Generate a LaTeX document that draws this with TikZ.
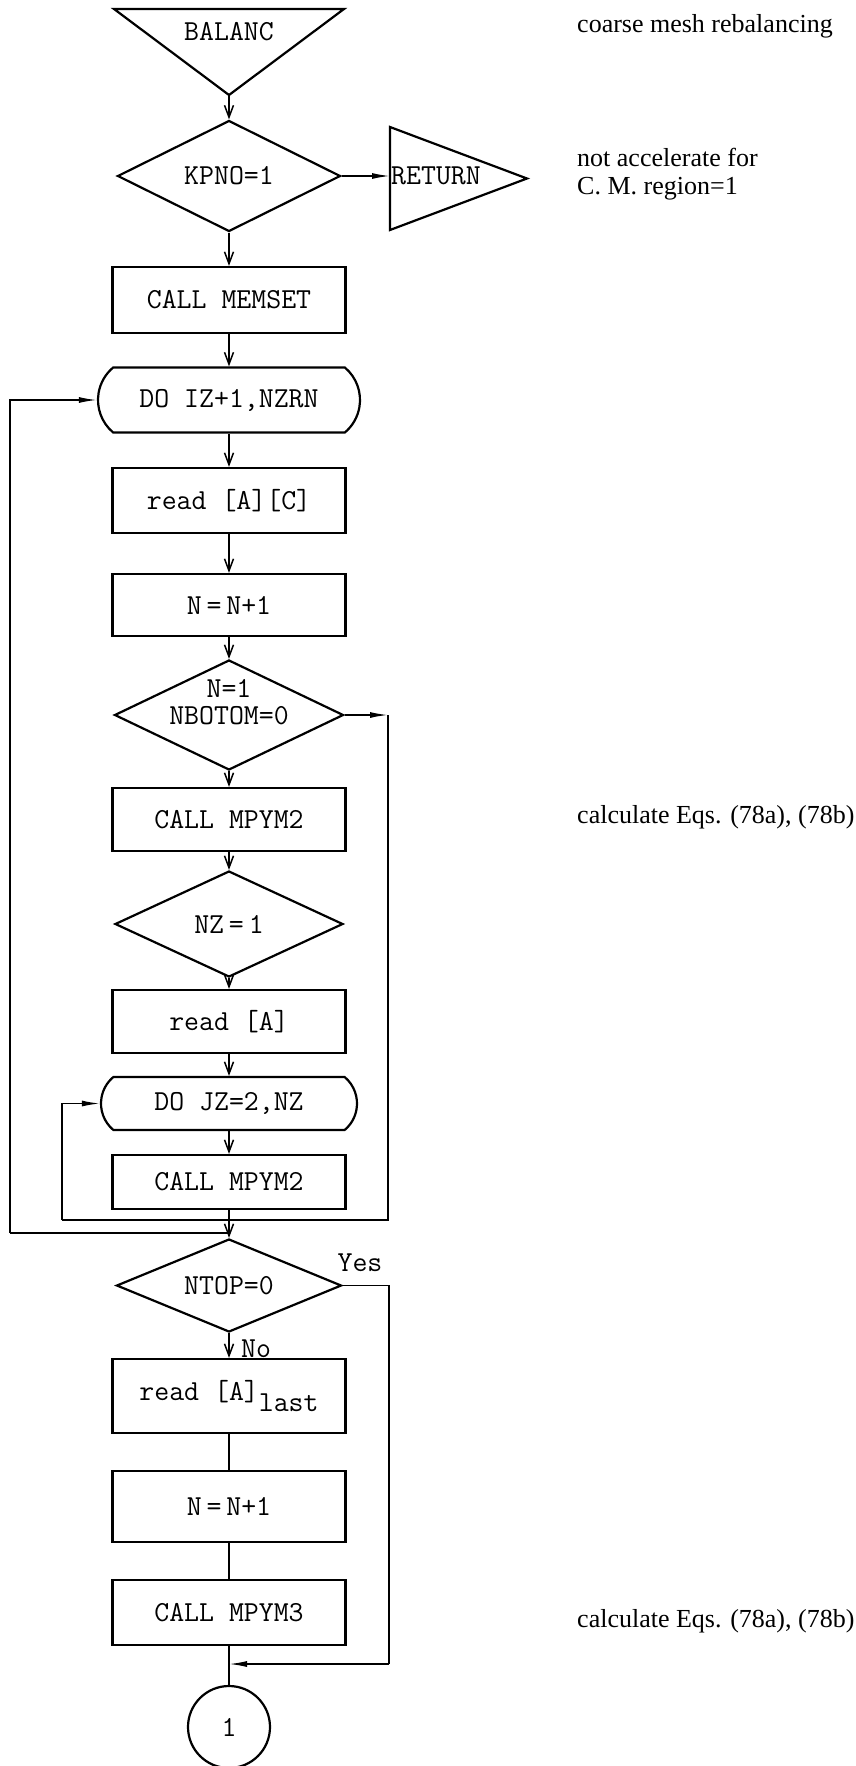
\documentclass[tikz,border=0pt]{standalone}
\usepackage{fontspec}
\newfontfamily\annotfont{Liberation Serif}
\usetikzlibrary{shapes.geometric,shapes.misc,arrows.meta}
\begin{document}
\begin{tikzpicture}[x=1pt,y=1pt,
  ttf/.style={font=\fontsize{29}{27}\selectfont\ttfamily},
  box/.style={ttf, draw, line width=2.2pt, minimum width=233pt, inner sep=0pt},
  loopbox/.style={ttf, draw, line width=2.2pt, rounded rectangle, rounded rectangle arc length=100, minimum width=262pt, inner sep=0pt},
  dia/.style={ttf, draw, diamond, aspect=2, line width=2.2pt, inner sep=0pt},
  hidden/.style={inner sep=0pt, outer sep=0pt},
  shapeline/.style={line width=2.2pt, line join=miter},
  line/.style={line width=1.5pt},
  arr/.style={line width=1.5pt, -{Straight Barb[length=12pt,width=9pt]}},
  farr/.style={line width=1.5pt, -{Latex[length=18pt,width=6pt]}},
  annot/.style={font=\annotfont\fontsize{26}{28}\selectfont, inner sep=0pt, anchor=base west}]
\useasboundingbox (0,0) rectangle (855,-1766);

% top triangle
\node[hidden, minimum width=230pt, minimum height=86pt] (balanc) at (229,-52) {};
\draw[shapeline] (balanc.north west) -- (balanc.north east) -- (balanc.south) -- cycle;
\node[ttf] (balanct) at (229,-32) {BALANC};

\node[dia, minimum width=223pt, minimum height=111pt] (kpno) at (229,-176) {KPNO=1};

% RETURN triangle
\node[hidden, minimum width=137pt, minimum height=103pt] (ret) at (458.5,-178.5) {};
\draw[shapeline] (ret.north west) -- (ret.east) -- (ret.south west) -- cycle;
\node[ttf, anchor=west, inner sep=0pt] (rett) at (391,-176) {RETURN};

\node[box, minimum height=66pt] (memset) at (229,-300) {CALL MEMSET};
\node[loopbox, minimum height=65pt] (doiz) at (229,-400) {DO IZ+1,NZRN};
\node[box, minimum height=65pt] (readac) at (229,-500.5) {read [A][C]};
\node[box, minimum height=62pt] (nn1) at (229,-605) {N\,=\,N+1};
\node[dia, minimum width=229pt, minimum height=110pt] (nbot) at (229,-715) {};
\node[ttf, align=center] (nbott) at (229,-702) {N=1\\NBOTOM=0};
\node[box, minimum height=63pt] (mpym2a) at (229,-819.5) {CALL MPYM2};
\node[dia, minimum width=228pt, minimum height=106pt] (nz) at (229,-924) {NZ\,=\,1};
\node[box, minimum height=63pt] (reada) at (229,-1021.5) {read [A]};
\node[loopbox, minimum height=53pt, minimum width=256pt] (dojz) at (229,-1103.5) {DO JZ=2,NZ};
\node[box, minimum height=54pt] (mpym2b) at (229,-1182) {CALL MPYM2};
\node[dia, minimum width=225pt, minimum height=93pt] (ntop) at (229,-1285.5) {NTOP=0};
\node[box, minimum height=74pt] (readlast) at (229,-1396) {read [A]\raisebox{-11pt}{last}};
\node[box, minimum height=71pt] (nn2) at (229,-1506.5) {N\,=\,N+1};
\node[box, minimum height=65pt] (mpym3) at (229,-1612.5) {CALL MPYM3};
\node[ttf, circle, draw, line width=2.2pt, minimum size=82pt, inner sep=0pt] (c1) at (229,-1727) {1};

% labels
\node[ttf] (yes) at (360,-1263) {Yes};
\node[ttf] (no) at (256,-1349) {No};

% coordinates for loop lines
\coordinate (j1) at (229,-1220);
\coordinate (j2) at (229,-1233);
\coordinate (lc1) at (62,-1220);
\coordinate (lc2) at (10,-1233);
\coordinate (rc1) at (388,-715);
\coordinate (rc2) at (388,-1220);
\coordinate (yc1) at (389,-1285.5);
\coordinate (yc2) at (389,-1664);
\coordinate (yj) at (229,-1664);

% main connectors
\draw[arr] (balanc.south) -- (kpno.north);
\draw[farr] (kpno.east) -- (kpno.east -| ret.west);
\draw[arr] (kpno.south) -- (memset.north);
\draw[arr] (memset.south) -- (doiz.north);
\draw[arr] (doiz.south) -- (readac.north);
\draw[arr] (readac.south) -- (nn1.north);
\draw[arr] (nn1.south) -- (nbot.north);
\draw[arr] (nbot.south) -- (mpym2a.north);
\draw[arr] (mpym2a.south) -- (nz.north);
\draw[arr] (nz.south) -- (reada.north);
\draw[arr] (reada.south) -- (dojz.north);
\draw[arr] (dojz.south) -- (mpym2b.north);
\draw[arr] (mpym2b.south) -- (ntop.north);
\draw[arr] (ntop.south) -- (readlast.north);
\draw[line] (readlast.south) -- (nn2.north);
\draw[line] (nn2.south) -- (mpym3.north);
\draw[line] (mpym3.south) -- (c1.north);

% loops
\draw[line] (j1) -- (lc1);
\draw[farr] (lc1) |- (dojz.west);
\draw[line] (j2) -- (lc2);
\draw[farr] (lc2) |- (doiz.west);
\draw[farr] (nbot.east) -- (rc1);
\draw[line] (rc1) -- (rc2) -- (j1);
\draw[line] (ntop.east) -- (yc1) -- (yc2);
\draw[farr] (yc2) -- (yj);

% annotations
\node[annot] (a1) at (577,-33) {coarse mesh rebalancing};
\node[annot] (a2) at (577,-166) {not accelerate for};
\node[annot] (a3) at (577,-194) {C. M. region=1};
\node[annot] (a4) at (577,-823) {calculate Eqs. (78a), (78b)};
\node[annot] (a5) at (577,-1627) {calculate Eqs. (78a), (78b)};
\end{tikzpicture}
\end{document}
